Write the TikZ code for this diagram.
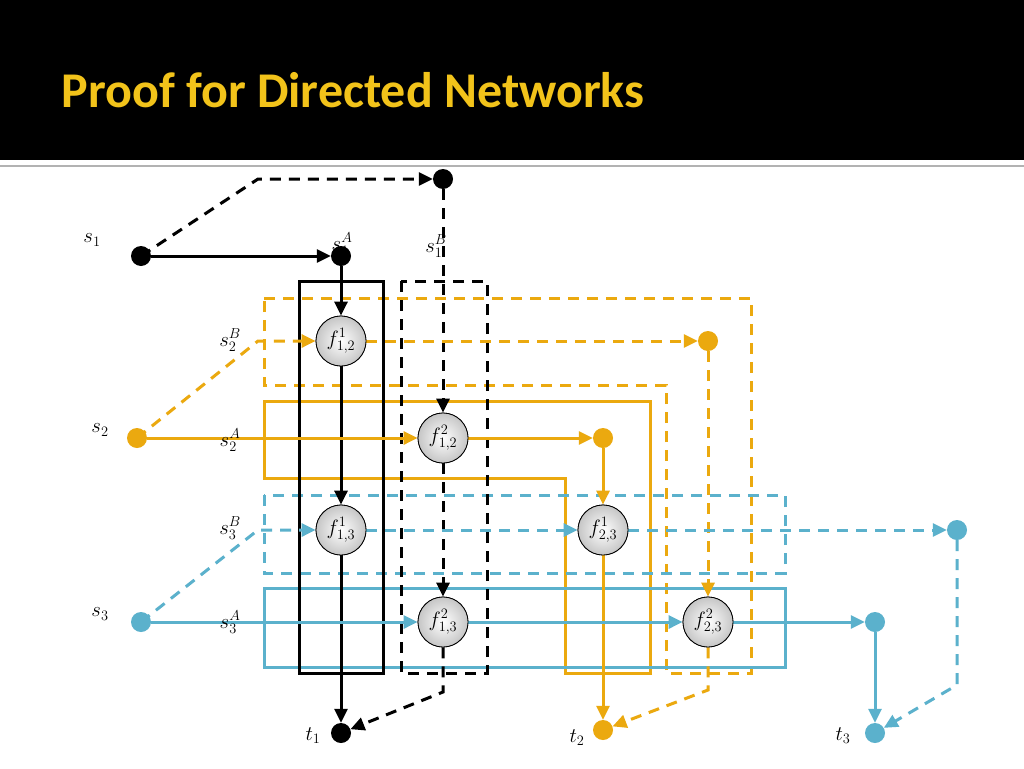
\documentclass[tikz,border=0pt]{standalone}
\usepackage{fontspec}
\setmainfont{Liberation Serif}
\newfontfamily\titlefont{Carlito}
\usetikzlibrary{arrows.meta,shadings}
\definecolor{ora}{HTML}{EBA90F}
\definecolor{blu}{HTML}{5BB1CC}
\definecolor{ttl}{HTML}{F2C31A}
\tikzset{
  ln/.style={line width=3pt},
  dsh/.style={line width=3pt,dash pattern=on 11pt off 8pt},
  arr/.style={-{Triangle[length=14pt,width=13pt]}},
  dot/.style={circle,fill,inner sep=0pt,minimum size=20pt},
  fn/.style={circle,draw=black,line width=0.8pt,inner sep=0pt,minimum size=50pt,inner color=white,outer color=gray!45,font=\fontsize{22}{22}\selectfont},
  lab/.style={font=\fontsize{22}{22}\selectfont,inner sep=1pt}
}
\begin{document}
\begin{tikzpicture}[x=1pt,y=-1pt]
\useasboundingbox (0,0) rectangle (1024,768);
\fill[white] (0,0) rectangle (1024,768);
\fill[black] (0,0) rectangle (1024,160);
\draw[gray!60,line width=2pt] (0,166) -- (1024,166);
\node[anchor=west,text=ttl,font=\titlefont\bfseries\fontsize{50}{50}\selectfont] (title) at (58,90) {Proof for Directed Networks};
% regions
\draw[ora,dsh] (264,298) -- (751,298) -- (751,673) -- (666,673) -- (666,385) -- (264,385) -- cycle;
\draw[ora,ln] (264,401) -- (650,401) -- (650,673) -- (565,673) -- (565,478) -- (264,478) -- cycle;
\draw[blu,dsh] (264,495) rectangle (785,573);
\draw[blu,ln] (264,588) rectangle (785,667);
\draw[black,ln] (299,281) rectangle (383,673);
\draw[black,dsh] (401,281) rectangle (487,673);
% nodes
\node[dot] (s1) at (141,256) {};
\node[dot] (s1A) at (341,256) {};
\node[dot] (top) at (443,179) {};
\node[dot,ora] (s2) at (137,438) {};
\node[dot,blu] (s3) at (141,622) {};
\node[dot,ora] (o1) at (603,438) {};
\node[dot,ora] (o2) at (708,341) {};
\node[dot,blu] (b1) at (957,530) {};
\node[dot,blu] (b2) at (875,622) {};
\node[dot] (t1) at (341,733) {};
\node[dot,ora] (t2) at (603,730) {};
\node[dot,blu] (t3) at (875,733) {};
\coordinate (c1) at (258,179);
\coordinate (c2) at (443,692);
\coordinate (c3) at (258,341);
\coordinate (c4) at (708,690);
\coordinate (c5) at (258,530);
\coordinate (c6) at (957,685);
\node[fn] (f121) at (341,341) {$f^{1}_{1,2}$};
\node[fn] (f122) at (443,438) {$f^{2}_{1,2}$};
\node[fn] (f131) at (341,530) {$f^{1}_{1,3}$};
\node[fn] (f132) at (443,622) {$f^{2}_{1,3}$};
\node[fn] (f231) at (603,530) {$f^{1}_{2,3}$};
\node[fn] (f232) at (708,622) {$f^{2}_{2,3}$};
% black
\draw[ln,arr] (s1) -- (s1A);
\draw[ln,arr] (s1A) -- (f121);
\draw[ln,arr] (f121) -- (f131);
\draw[ln,arr] (f131) -- (t1);
\draw[dsh,arr] (s1.center) -- (c1) -- (top);
\draw[dsh,arr] (top) -- (f122);
\draw[dsh,arr] (f122) -- (f132);
\draw[dsh,arr] (f132) -- (c2) -- (t1);
% orange
\draw[ora,dsh,arr] (s2.center) -- (c3) -- (f121);
\draw[ora,dsh,arr] (f121) -- (o2);
\draw[ora,dsh,arr] (o2) -- (f232);
\draw[ora,dsh,arr] (f232) -- (c4) -- (t2);
\draw[ora,ln,arr] (s2) -- (f122);
\draw[ora,ln,arr] (f122) -- (o1);
\draw[ora,ln,arr] (o1) -- (f231);
\draw[ora,ln,arr] (f231) -- (t2);
% blue
\draw[blu,dsh,arr] (s3.center) -- (c5) -- (f131);
\draw[blu,dsh,arr] (f131) -- (f231);
\draw[blu,dsh,arr] (f231) -- (b1);
\draw[blu,dsh,arr] (b1) -- (c6) -- (t3);
\draw[blu,ln,arr] (s3) -- (f132);
\draw[blu,ln,arr] (f132) -- (f232);
\draw[blu,ln,arr] (f232) -- (b2);
\draw[blu,ln,arr] (b2) -- (t3);
% redraw function nodes on top
\node[fn] at (f121) {$f^{1}_{1,2}$};
\node[fn] at (f122) {$f^{2}_{1,2}$};
\node[fn] at (f131) {$f^{1}_{1,3}$};
\node[fn] at (f132) {$f^{2}_{1,3}$};
\node[fn] at (f231) {$f^{1}_{2,3}$};
\node[fn] at (f232) {$f^{2}_{2,3}$};
% labels
\node[lab] (ls1) at (92,240) {$s_1$};
\node[lab] (ls1A) at (342,244) {$s_1^A$};
\node[lab] (ls1B) at (436,246) {$s_1^B$};
\node[lab] (ls2B) at (230,340) {$s_2^B$};
\node[lab] (ls2) at (100,430) {$s_2$};
\node[lab] (ls2A) at (230,440) {$s_2^A$};
\node[lab] (ls3B) at (230,528) {$s_3^B$};
\node[lab] (ls3) at (100,614) {$s_3$};
\node[lab] (ls3A) at (230,622) {$s_3^A$};
\node[lab] (lt1) at (313,736) {$t_1$};
\node[lab] (lt2) at (577,738) {$t_2$};
\node[lab] (lt3) at (843,736) {$t_3$};
\end{tikzpicture}
\end{document}
